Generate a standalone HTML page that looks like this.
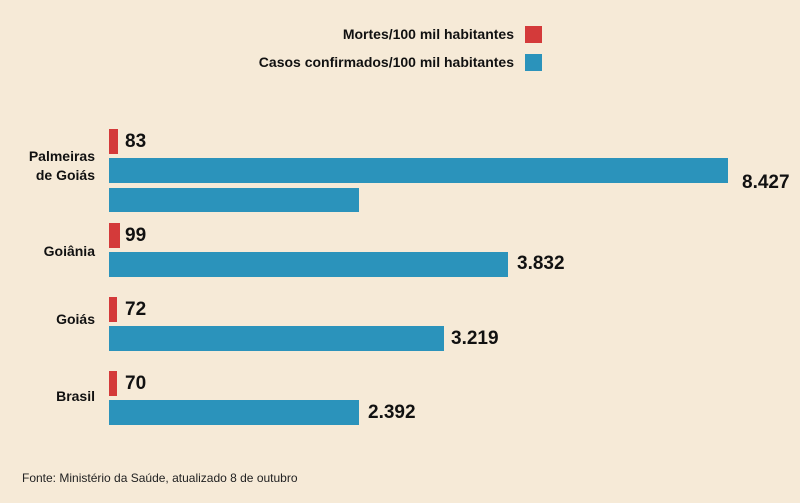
<!DOCTYPE html><html><head><meta charset="utf-8"><style>
body{margin:0;width:800px;height:503px;background:#f6ead7;position:relative;overflow:hidden;font-family:"Liberation Sans",sans-serif;color:#111}
div{position:absolute}
.r{background:#d43a3a}.b{background:#2b93bb}
.l{font-weight:bold;font-size:14px;text-align:right;width:95px;left:0}
.v{font-weight:bold;font-size:19px}
.g{font-size:14px;font-weight:bold;text-align:right;width:500px;left:14px}
</style></head><body>
<div class="g" style="top:26px">Mortes/100 mil habitantes</div>
<div class="r" style="left:525px;top:26px;width:17px;height:17px"></div>
<div class="g" style="top:54px">Casos confirmados/100 mil habitantes</div>
<div class="b" style="left:525px;top:54px;width:17px;height:17px"></div>

<div class="l" style="top:147px;line-height:19px">Palmeiras<br>de Goiás</div>
<div class="r" style="left:109px;top:129px;width:9px;height:25px"></div>
<div class="v" style="left:125px;top:131px">83</div>
<div class="b" style="left:109px;top:158px;width:619px;height:25px"></div>
<div class="v" style="left:742px;top:172px">8.427</div>
<div class="b" style="left:109px;top:188px;width:250px;height:24px"></div>

<div class="l" style="top:243px">Goiânia</div>
<div class="r" style="left:109px;top:223px;width:11px;height:25px"></div>
<div class="v" style="left:125px;top:225px">99</div>
<div class="b" style="left:109px;top:252px;width:399px;height:25px"></div>
<div class="v" style="left:517px;top:253px">3.832</div>

<div class="l" style="top:311px">Goiás</div>
<div class="r" style="left:109px;top:297px;width:8px;height:25px"></div>
<div class="v" style="left:125px;top:299px">72</div>
<div class="b" style="left:109px;top:326px;width:335px;height:25px"></div>
<div class="v" style="left:451px;top:328px">3.219</div>

<div class="l" style="top:388px">Brasil</div>
<div class="r" style="left:109px;top:371px;width:8px;height:25px"></div>
<div class="v" style="left:125px;top:373px">70</div>
<div class="b" style="left:109px;top:400px;width:250px;height:25px"></div>
<div class="v" style="left:368px;top:402px">2.392</div>

<div style="left:22px;top:471px;font-size:12px;color:#222">Fonte: Ministério da Saúde, atualizado 8 de outubro</div>
</body></html>
